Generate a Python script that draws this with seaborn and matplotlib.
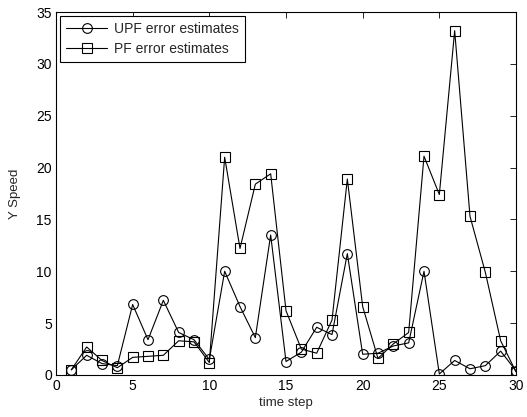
import matplotlib
matplotlib.use("Agg")
import matplotlib.pyplot as plt
import seaborn as sns
import pandas as pd

steps = list(range(1, 31))
upf = [0.5, 1.9, 1.1, 0.9, 6.8, 3.4, 7.2, 4.1, 3.4, 1.5,
       10.0, 6.6, 3.6, 13.5, 1.3, 2.2, 4.6, 3.9, 11.7, 2.0,
       2.1, 2.8, 3.1, 10.0, 0.1, 1.4, 0.6, 0.9, 2.3, 0.4]
pf = [0.5, 2.7, 1.4, 0.7, 1.7, 1.8, 1.9, 3.3, 3.2, 1.2,
      21.0, 12.2, 18.4, 19.4, 6.2, 2.5, 2.1, 5.3, 18.9, 6.6,
      1.6, 3.0, 4.1, 21.1, 17.4, 33.2, 15.3, 9.9, 3.3, 0.3]

sns.set_style("white")
plt.rcParams['font.family'] = ['Liberation Sans', 'DejaVu Sans']

fig = plt.figure(figsize=(5.27, 4.17), dpi=100)
ax = fig.add_axes([56/527, 1-375/417, (516-56)/527, (375-12)/417])

df = pd.DataFrame({"t": steps, "UPF": upf, "PF": pf})
sns.lineplot(data=df, x="t", y="UPF", ax=ax, color="black", lw=0.8,
             marker="o", markersize=7, markerfacecolor="none",
             markeredgecolor="black", markeredgewidth=0.8,
             label="UPF error estimates")
sns.lineplot(data=df, x="t", y="PF", ax=ax, color="black", lw=0.8,
             marker="s", markersize=6.5, markerfacecolor="none",
             markeredgecolor="black", markeredgewidth=0.8,
             label="PF error estimates")

ax.set_xlim(0, 30)
ax.set_ylim(0, 35)
ax.set_xticks(range(0, 31, 5))
ax.set_yticks(range(0, 36, 5))
ax.tick_params(direction="in", top=True, right=True, length=4, width=0.6,
               labelsize=10, colors="black", pad=3)
for s in ax.spines.values():
    s.set_color("black")
    s.set_linewidth(0.8)
ax.set_xlabel("time step", fontsize=9.5, labelpad=3)
ax.set_ylabel("Y Speed", fontsize=9.5, labelpad=11)
leg = ax.legend(loc="upper left", fontsize=10, frameon=True, fancybox=False,
                edgecolor="black", framealpha=1, borderaxespad=0.3,
                handlelength=3, borderpad=0.4, labelspacing=0.45,
                handletextpad=0.5)
leg.get_frame().set_linewidth(0.8)

fig.savefig("out.png", dpi=100)
